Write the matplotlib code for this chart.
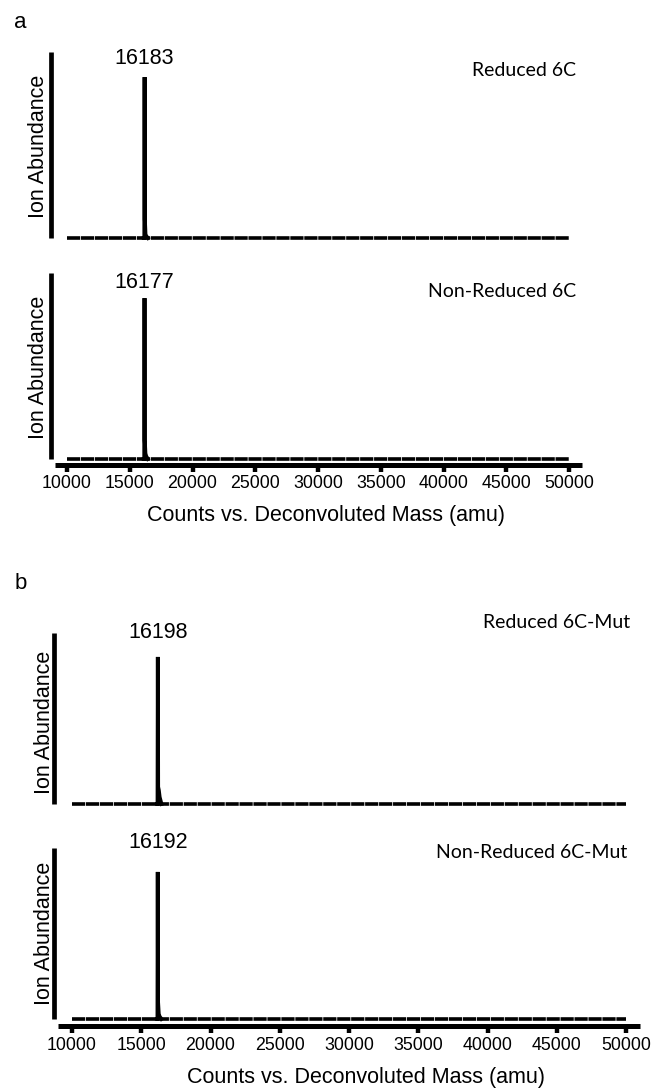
import matplotlib.pyplot as plt

W, H, DPI = 655, 1088, 100

# sample names and peak values
samples = ['Reduced 6C', 'Non-Reduced 6C', 'Reduced 6C-Mut', 'Non-Reduced 6C-Mut']
peak_mass = [16183, 16177, 16198, 16192]
peak_height = [0.865, 0.865, 0.86, 0.86]
shoulder_height = [0.02, 0.03, 0.08, 0.03]
mass_range = [10000, 50000]
xticks = [10000, 15000, 20000, 25000, 30000, 35000, 40000, 45000, 50000]
xtick_labels = [str(t) for t in xticks]
panel_letters = ['a', 'b']

# layout of each panel in pixels
# bar_x, top, base, px of 10000, px of 50000, axis offset (None = no axis), axis span px
layout = [
    (50.5, 52, 238, 67, 569, None, None),
    (50.5, 273, 459, 67, 569, 5.5, (55, 582)),
    (54.5, 633, 804, 72, 626, None, None),
    (54.5, 848, 1019, 72, 626, 6.5, (58, 640)),
]
peak_label_y = [58, 282, 633, 842]
sample_label = [(576, 71), (576, 292), (630, 622), (627, 852)]
ylabel_pos = [(39, 146), (39, 367), (45, 722), (45, 933)]
xlabel_pos = [(326, 515), (366, 1077)]
letter_pos = [(14, 28), (15, 589)]

ARIAL = 'Liberation Sans'
CALIBRI = 'Lato'


def fx(x):
    return x / W


def fy(y):
    return 1 - y / H


def spectrum(i):
    p = peak_mass[i]
    mass = [p - 70, p - 20, p, p + 20, p + 70, p + 130, p + 260]
    inten = [0, 0, peak_height[i], 0.1, shoulder_height[i], shoulder_height[i] * 0.5, 0]
    return mass, inten


fig = plt.figure(figsize=(W / DPI, H / DPI), dpi=DPI)
plt.rcParams['lines.scale_dashes'] = False

for i, (bx, top, base, p10, p50, off, span) in enumerate(layout):
    k = (p50 - p10) / (mass_range[1] - mass_range[0])
    right = 650
    ax = fig.add_axes([fx(bx), fy(base), (right - bx) / W, (base - top) / H])
    x_left = mass_range[0] - (p10 - bx) / k
    x_right = mass_range[0] + (right - p10) / k
    ax.set_xlim(x_left, x_right)
    ax.set_ylim(0, 1)
    ax.patch.set_visible(False)

    for s in ['top', 'right']:
        ax.spines[s].set_visible(False)
    ax.spines['left'].set_linewidth(3.4)
    ax.spines['left'].set_capstyle('butt')
    ax.set_yticks([])

    # baseline, drawn with tiny gaps like the original trace
    ax.plot(mass_range, [0, 0], color='black', lw=2.6,
            linestyle=(0, (9.5, 0.55)), solid_capstyle='butt', clip_on=False)
    m, v = spectrum(i)
    ax.plot(m, v, color='black', lw=2.8, solid_joinstyle='miter', clip_on=False)

    if off is None:
        ax.spines['bottom'].set_visible(False)
        ax.set_xticks([])
    else:
        sp = ax.spines['bottom']
        sp.set_position(('outward', off * 72 / DPI))
        sp.set_linewidth(3.6)
        sp.set_capstyle('butt')
        sp.set_bounds(mass_range[0] - (p10 - span[0]) / k,
                      mass_range[0] + (span[1] - p10) / k)
        ax.set_xticks(xticks)
        ax.set_xticklabels(xtick_labels, fontsize=12.8, family=ARIAL)
        ax.tick_params(axis='x', direction='out', length=4.8, width=3.2,
                       pad=2.4 if i == 1 else 3.4)

    lx = p10 + (peak_mass[i] - mass_range[0]) * k
    fig.text(fx(lx), fy(peak_label_y[i]), str(peak_mass[i]), fontsize=15.5,
             family=ARIAL, ha='center', va='center')

    sx, sy = sample_label[i]
    fig.text(fx(sx), fy(sy), samples[i], fontsize=14, family=CALIBRI,
             ha='right', va='center')

    yx, yy = ylabel_pos[i]
    fig.text(fx(yx), fy(yy), 'Ion Abundance', fontsize=15.5, family=ARIAL,
             rotation=90, ha='center', va='center')

for (x, y) in xlabel_pos:
    fig.text(fx(x), fy(y), 'Counts vs. Deconvoluted Mass (amu)', fontsize=15.5,
             family=ARIAL, ha='center', va='center')

for letter, (x, y) in zip(panel_letters, letter_pos):
    fig.text(fx(x), fy(y), letter, fontsize=16, family=ARIAL,
             ha='left', va='baseline')

fig.savefig('out.png', dpi=DPI)
